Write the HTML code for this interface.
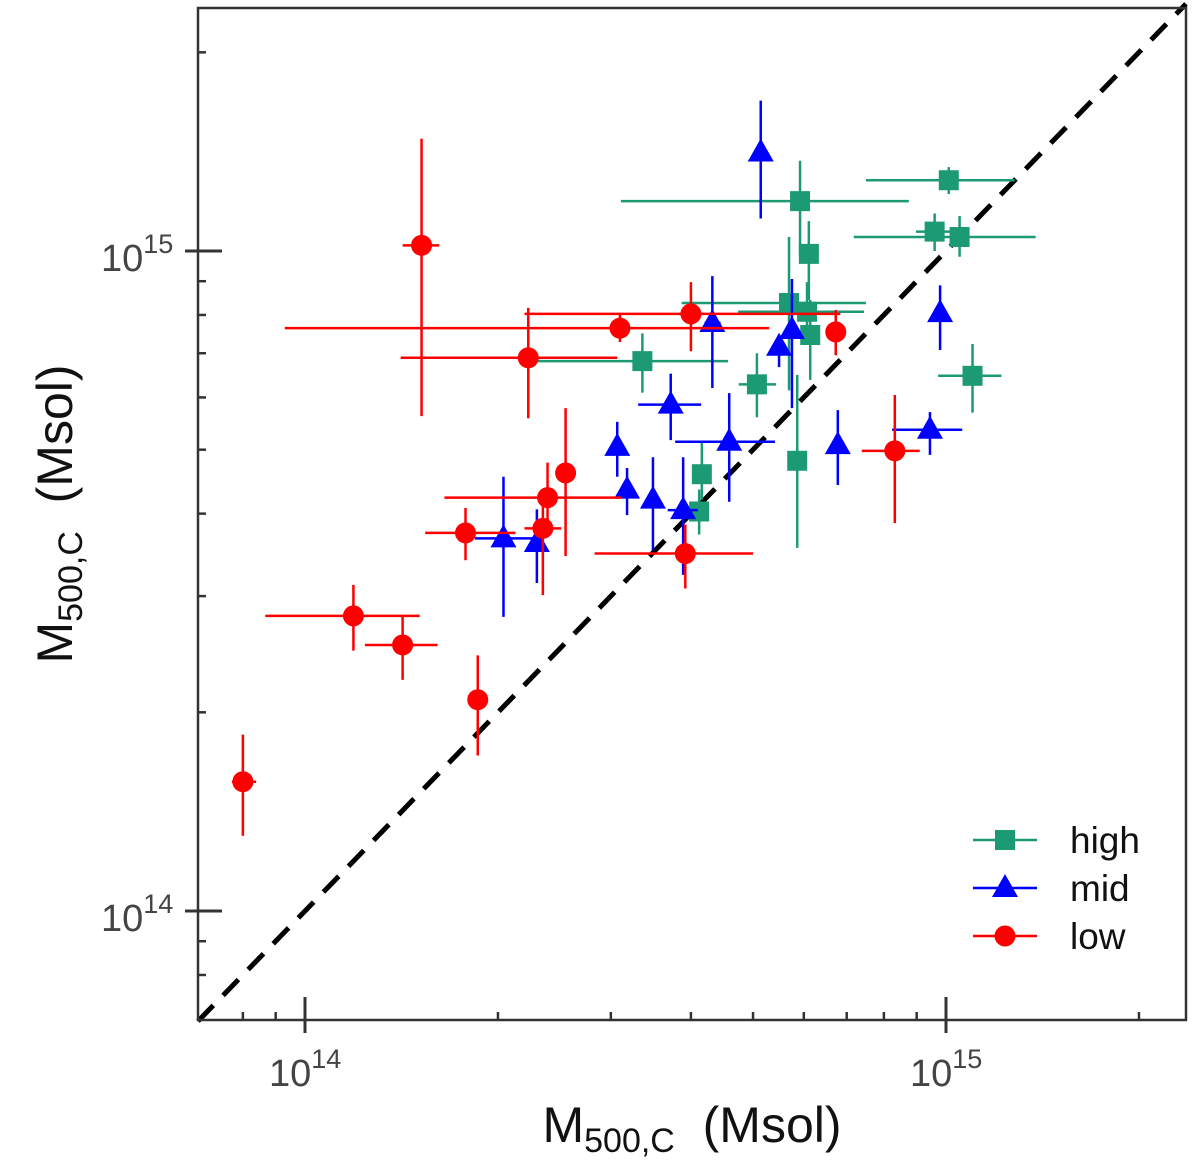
<!DOCTYPE html>
<html><head><meta charset="utf-8"><style>
html,body{margin:0;padding:0;background:#fff;}
svg{display:block;font-family:"Liberation Sans",sans-serif;}
</style></head><body>
<svg id="chart" width="1200" height="1161" viewBox="0 0 1200 1161" xmlns="http://www.w3.org/2000/svg">
<g id="grid"></g>
<g id="marks"></g>
<g id="axes"></g>
<text x="692" y="1142" text-anchor="middle" font-size="50" fill="#111">M<tspan font-size="34" dy="10">500,C</tspan><tspan dy="-10" xml:space="preserve">  (Msol)</tspan></text>
<text transform="translate(72,514) rotate(-90)" text-anchor="middle" font-size="50" fill="#111">M<tspan font-size="34" dy="10">500,C</tspan><tspan dy="-10" xml:space="preserve">  (Msol)</tspan></text>
<g id="legend"></g>
</svg>
<script>
// values in units of 1e14 Msol
const highX   = [3.36,5.92,10.1,9.6,10.5,6.11,5.69,6.07,6.14,5.07,11.0,5.86,4.16,4.12];
const highY   = [6.81,11.9,12.8,10.7,10.5,9.9,8.34,8.09,7.46,6.28,6.47,4.81,4.59,4.03];
const highXlo = [2.30,3.11,7.5,8.98,7.18,6.11,3.87,4.74,6.14,4.75,9.72,5.86,4.16,4.12];
const highXhi = [4.57,8.75,12.8,10.5,13.8,6.11,7.5,7.45,6.14,5.43,12.2,5.86,4.16,4.12];
const highYlo = [6.1,9.86,12.2,10.0,9.8,8.43,6.15,7.21,6.38,5.6,5.69,3.55,4.2,3.72];
const highYhi = [7.5,13.7,13.4,11.4,11.3,11.1,10.5,8.97,8.43,7.0,7.23,6.49,5.12,4.35];

const midX   = [5.14,9.79,4.32,5.75,5.49,3.72,4.59,6.78,9.44,3.07,3.18,3.49,3.89,2.04,2.30];
const midY   = [14.1,8.05,7.78,7.59,7.16,5.85,5.14,5.08,5.36,5.05,4.35,4.2,4.05,3.67,3.61];
const midXlo = [5.14,9.79,4.2,5.75,5.49,3.31,3.78,6.78,8.24,3.07,3.18,3.49,3.68,1.84,2.30];
const midXhi = [5.14,9.79,4.45,5.75,5.49,4.15,5.41,6.78,10.6,3.07,3.18,3.49,4.1,2.28,2.30];
const midYlo = [11.2,7.08,6.2,5.78,6.67,5.17,4.17,4.42,4.91,4.55,3.98,3.52,3.23,2.79,3.14];
const midYhi = [16.9,8.87,9.16,9.07,7.46,6.52,6.09,5.74,5.7,5.51,4.69,4.87,4.87,4.55,4.06];

const lowX   = [1.52,2.23,3.1,4.0,6.73,2.55,2.39,2.35,1.78,3.92,8.32,1.19,1.42,1.86,0.80];
const lowY   = [10.2,6.89,7.64,8.03,7.54,4.61,4.23,3.80,3.74,3.48,4.98,2.8,2.53,2.09,1.57];
const lowXlo = [1.42,1.41,0.93,2.2,6.73,2.55,1.65,2.2,1.54,2.83,7.39,0.867,1.24,1.86,0.769];
const lowXhi = [1.62,3.07,5.3,6.84,6.73,2.55,3.12,2.51,2.13,5.0,9.1,1.51,1.61,1.86,0.839];
const lowYlo = [5.62,5.58,7.28,7.05,6.95,3.45,3.78,3.01,3.4,3.08,3.87,2.48,2.24,1.72,1.30];
const lowYhi = [14.8,8.2,8.0,8.97,8.14,5.78,4.78,4.12,4.08,3.85,6.05,3.12,2.81,2.44,1.85];

const xMajor = [1,10];
const yMajor = [1,10];
const xMinor = [0.8,0.9,2,3,4,5,6,7,8,9,20];
const yMinor = [0.8,0.9,2,3,4,5,6,7,8,9,20];
const majorLabels = ["14","15"];

const L=198,R=1186,T=8,B=1020;
function sx(v){return 305+641*Math.log10(v);}
function sy(v){return 251+660*(1-Math.log10(v));}
const NS="http://www.w3.org/2000/svg";
function mk(tag,attrs,parent){const e=document.createElementNS(NS,tag);for(const k in attrs)e.setAttribute(k,attrs[k]);parent.appendChild(e);return e;}

const axes=document.getElementById('axes');
const frame=mk('rect',{x:L,y:T,width:R-L,height:B-T,fill:'none',stroke:'#333','stroke-width':2.5},axes);


xMinor.forEach(v=>{const l=mk('line',{x1:sx(v),x2:sx(v),y1:B,y2:B-8,stroke:'#333','stroke-width':2.5},axes);

});
yMinor.forEach(v=>{const l=mk('line',{x1:L,x2:L+8,y1:sy(v),y2:sy(v),stroke:'#333','stroke-width':2.5},axes);

});
xMajor.forEach((v,i)=>{const l=mk('line',{x1:sx(v),x2:sx(v),y1:B+13,y2:B-23,stroke:'#333','stroke-width':3},axes);


const t=mk('text',{x:sx(v)-36,y:1086,'font-size':38,fill:'#444'},axes);


t.textContent='10';const s=mk('tspan',{'font-size':27,dy:-18},t);s.textContent=majorLabels[i];});
yMajor.forEach((v,i)=>{const l=mk('line',{x1:L-13,x2:L+24,y1:sy(v),y2:sy(v),stroke:'#333','stroke-width':3},axes);


const t=mk('text',{x:101,y:sy(v)+20,'font-size':38,fill:'#444'},axes);


t.textContent='10';const s=mk('tspan',{'font-size':27,dy:-18},t);s.textContent=majorLabels[i];});

const marks=document.getElementById('marks');
const diag=mk('line',{x1:L,y1:sy(Math.pow(10,(L-305)/641)),x2:R,y2:sy(Math.pow(10,(R-305)/641)),stroke:'#000','stroke-width':5,'stroke-dasharray':'22 14'},marks);



function marker(kind,x,y,color,g){
  let m;
  if(kind==='sq') m=mk('rect',{x:x-10,y:y-10,width:20,height:20,fill:color},g);
  else if(kind==='tri') m=mk('polygon',{points:`${x},${y-14} ${x-13},${y+9} ${x+13},${y+9}`,fill:color},g);
  else m=mk('circle',{cx:x,cy:y,r:10.5,fill:color},g);
  return m;
}
function series(name,kind,color,X,Y,xl,xh,yl,yh){
  const g=mk('g',{},marks);
  
  
  for(let i=0;i<X.length;i++){
    const px=sx(X[i]),py=sy(Y[i]);
    const h=mk('line',{x1:sx(xl[i]),x2:sx(xh[i]),y1:py,y2:py,stroke:color,'stroke-width':2.5},g);
    
    
    const v=mk('line',{x1:px,x2:px,y1:sy(yl[i]),y2:sy(yh[i]),stroke:color,'stroke-width':2.5},g);
    
    
    const m=marker(kind,px,py,color,g);
    
    
  }
}
series('high','sq','#1b9a74',highX,highY,highXlo,highXhi,highYlo,highYhi);
series('mid','tri','#0000ff',midX,midY,midXlo,midXhi,midYlo,midYhi);
series('low','circ','#ff0000',lowX,lowY,lowXlo,lowXhi,lowYlo,lowYhi);

const leg=document.getElementById('legend');
const legNames=['high','mid','low'],legKinds=['sq','tri','circ'],legCols=['#1b9a74','#0000ff','#ff0000'];
legNames.forEach((n,i)=>{
  const y=840+i*48;
  const g=mk('g',{},leg);
  
  
  mk('line',{x1:973,x2:1037,y1:y,y2:y,stroke:legCols[i],'stroke-width':2.5},g);
  marker(legKinds[i],1005,y,legCols[i],g);
  const t=mk('text',{x:1070,y:y+13,'font-size':37,fill:'#111'},g);
  t.textContent=n;
});
</script>
</body></html>
